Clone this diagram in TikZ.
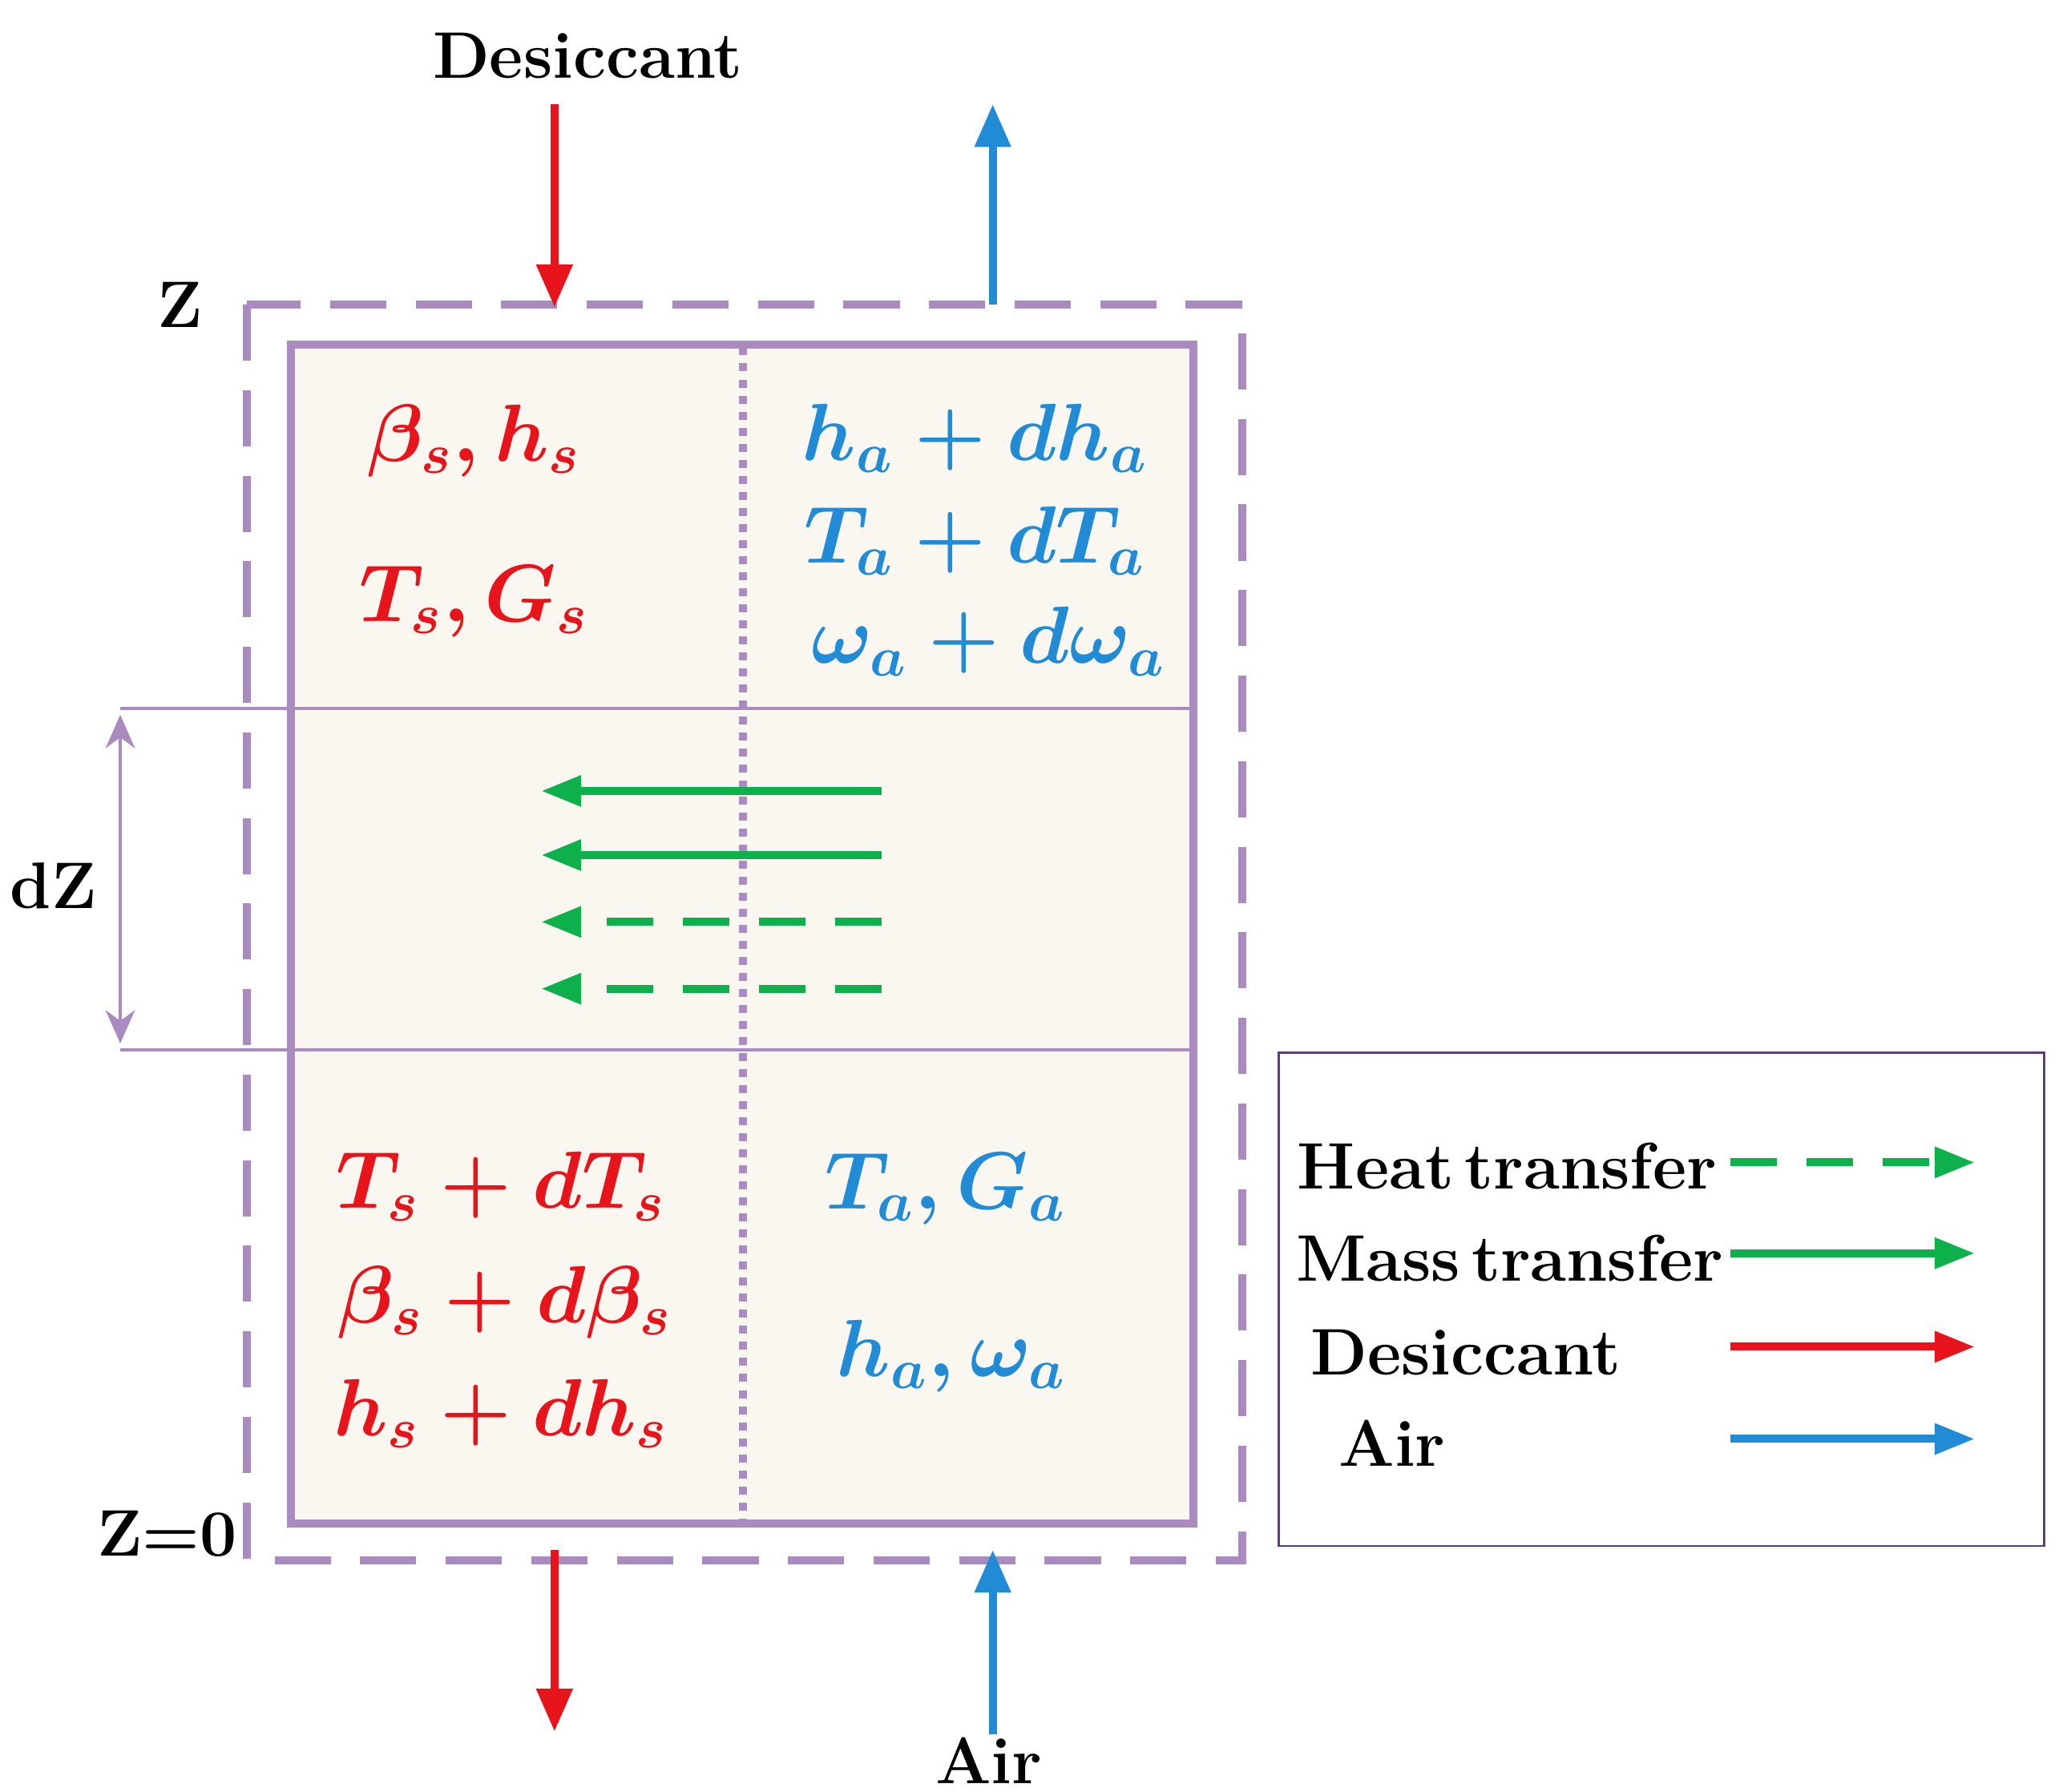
\documentclass[tikz,border=0pt]{standalone}
\usepackage{amsmath,bm}
\usetikzlibrary{arrows.meta}
\definecolor{pur}{HTML}{A98BC0}
\definecolor{dpur}{HTML}{5B3F7A}
\definecolor{myred}{HTML}{E8141B}
\definecolor{myblue}{HTML}{228BD6}
\definecolor{mygreen}{HTML}{0DB04B}
\definecolor{bg}{HTML}{F9F7F0}
\begin{document}
\begin{tikzpicture}[x=0.01cm,y=-0.01cm,
 lbl/.style={font=\fontsize{14}{16}\selectfont\bfseries},
 mth/.style={font=\fontsize{17.5}{20}\selectfont\boldmath},
 bigarr/.style={line width=0.06cm,-{Triangle[length=0.32cm,width=0.26cm]}},
 garr/.style={mygreen,line width=0.06cm,-{Triangle[length=0.3cm,width=0.22cm]}},
 gdash/.style={garr,dash pattern=on 0.35cm off 0.22cm}]
\useasboundingbox (0,0) rectangle (1550,1341);
\fill[bg] (218,258) rectangle (893,1140);
\draw[pur,line width=0.06cm,dash pattern=on 0.42cm off 0.22cm] (185,228) rectangle (930,1168);
\draw[pur,line width=0.06cm] (218,258) rectangle (893,1140);
\draw[pur,line width=0.025cm] (90,530) -- (893,530) (90,786) -- (893,786);
\draw[pur,line width=0.06cm,dash pattern=on 0.06cm off 0.06cm] (556,260) -- (556,1138);
\draw[pur,line width=0.02cm,{Stealth[length=0.25cm,width=0.22cm]}-{Stealth[length=0.25cm,width=0.22cm]}] (90,535) -- (90,781);
\node[lbl] (dz) at (40,663) {dZ};
\node[lbl] (z) at (135,228) {Z};
\node[lbl] (z0) at (125,1148) {Z=0};
\node[lbl] (des) at (440,42) {Desiccant};
\node[lbl] (air) at (740,1318) {Air};
\coordinate (r1) at (415,78); \coordinate (r2) at (415,230);
\coordinate (b1) at (743,228); \coordinate (b2) at (743,78);
\coordinate (r3) at (415,1160); \coordinate (r4) at (415,1296);
\coordinate (b3) at (743,1298); \coordinate (b4) at (743,1160);
\draw[bigarr,myred] (r1) -- (r2);
\draw[bigarr,myblue] (b1) -- (b2);
\draw[bigarr,myred] (r3) -- (r4);
\draw[bigarr,myblue] (b3) -- (b4);
\foreach \y/\s in {592/garr,640/garr,690/gdash,740/gdash}
  \draw[\s] (660,\y) -- (405,\y);
\node[mth,myred] (t1) at (355,330) {$\beta_s, h_s$};
\node[mth,myred] (t2) at (355,450) {$T_s, G_s$};
\node[mth,myred] (t3) at (375,888) {$T_s+dT_s$};
\node[mth,myred] (t4) at (378,975) {$\beta_s+d\beta_s$};
\node[mth,myred] (t5) at (375,1058) {$h_s+dh_s$};
\node[mth,myblue] (u1) at (730,328) {$h_a+dh_a$};
\node[mth,myblue] (u2) at (730,405) {$T_a+dT_a$};
\node[mth,myblue] (u3) at (740,480) {$\omega_a+d\omega_a$};
\node[mth,myblue] (u4) at (708,890) {$T_a, G_a$};
\node[mth,myblue] (u5) at (712,1015) {$h_a, \omega_a$};
\draw[dpur,line width=0.015cm] (957,788) rectangle (1530,1157);
\node[lbl] (l1) at (1128,873) {Heat\,transfer};
\node[lbl] (l2) at (1130,942) {Mass\,transfer};
\node[lbl] (l3) at (1097,1012) {Desiccant};
\node[lbl] (l4) at (1042,1080) {Air};
\draw[gdash] (1295,870) -- (1478,870);
\draw[garr] (1295,938) -- (1478,938);
\draw[garr,myred] (1295,1008) -- (1478,1008);
\draw[garr,myblue] (1295,1077) -- (1478,1077);
\end{tikzpicture}
\end{document}
